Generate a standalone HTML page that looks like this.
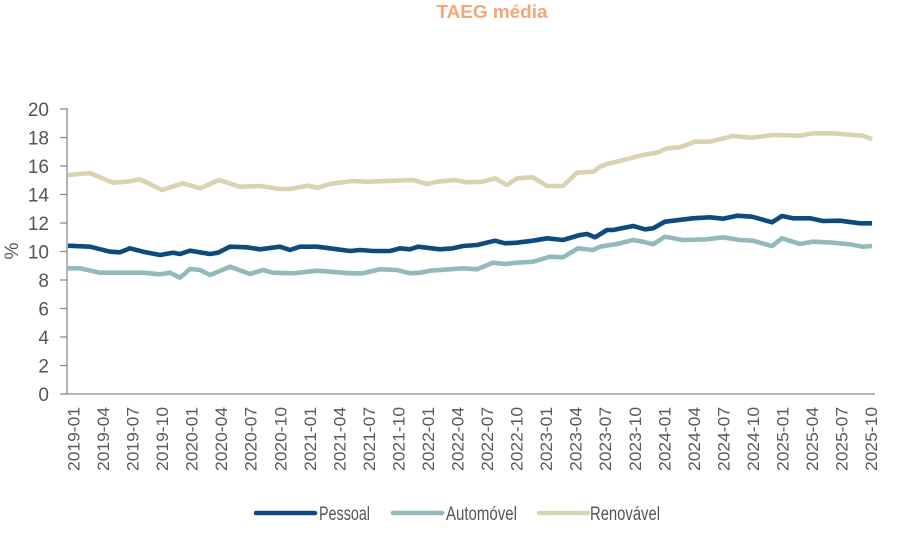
<!DOCTYPE html>
<html><head><meta charset="utf-8"><style>
html,body{margin:0;padding:0;background:#fff;}
svg{display:block;}
text{font-family:"Liberation Sans",sans-serif;}
</style></head><body>
<svg width="900" height="559" viewBox="0 0 900 559" xmlns="http://www.w3.org/2000/svg">
<text x="492" y="18" text-anchor="middle" font-size="18" font-weight="bold" fill="#f4a67a" textLength="111" lengthAdjust="spacingAndGlyphs">TAEG média</text>
<g stroke="#8c8c8c" stroke-width="1.3" fill="none">
<line x1="67" y1="108" x2="67" y2="394.5"/>
<line x1="66.5" y1="394" x2="875" y2="394"/>
<line x1="60" y1="394" x2="67" y2="394"/><line x1="60" y1="365.5" x2="67" y2="365.5"/><line x1="60" y1="337" x2="67" y2="337"/><line x1="60" y1="308.5" x2="67" y2="308.5"/><line x1="60" y1="280" x2="67" y2="280"/><line x1="60" y1="251.5" x2="67" y2="251.5"/><line x1="60" y1="223" x2="67" y2="223"/><line x1="60" y1="194.5" x2="67" y2="194.5"/><line x1="60" y1="166" x2="67" y2="166"/><line x1="60" y1="137.5" x2="67" y2="137.5"/><line x1="60" y1="109" x2="67" y2="109"/>
</g>
<g font-size="19" fill="#555" text-anchor="end">
<text x="49" y="401">0</text><text x="49" y="372.5">2</text><text x="49" y="344">4</text><text x="49" y="315.5">6</text><text x="49" y="287">8</text><text x="49" y="258.5">10</text><text x="49" y="230">12</text><text x="49" y="201.5">14</text><text x="49" y="173">16</text><text x="49" y="144.5">18</text><text x="49" y="116">20</text>
</g>
<text transform="translate(18,251) rotate(-90)" text-anchor="middle" font-size="19" fill="#555">%</text>
<g font-size="17" fill="#595959" text-anchor="end">
<text transform="translate(79.5,407) rotate(-90)" textLength="64" lengthAdjust="spacingAndGlyphs">2019-01</text>
<text transform="translate(109.0,407) rotate(-90)" textLength="64" lengthAdjust="spacingAndGlyphs">2019-04</text>
<text transform="translate(138.6,407) rotate(-90)" textLength="64" lengthAdjust="spacingAndGlyphs">2019-07</text>
<text transform="translate(168.1,407) rotate(-90)" textLength="64" lengthAdjust="spacingAndGlyphs">2019-10</text>
<text transform="translate(197.7,407) rotate(-90)" textLength="64" lengthAdjust="spacingAndGlyphs">2020-01</text>
<text transform="translate(227.2,407) rotate(-90)" textLength="64" lengthAdjust="spacingAndGlyphs">2020-04</text>
<text transform="translate(256.7,407) rotate(-90)" textLength="64" lengthAdjust="spacingAndGlyphs">2020-07</text>
<text transform="translate(286.3,407) rotate(-90)" textLength="64" lengthAdjust="spacingAndGlyphs">2020-10</text>
<text transform="translate(315.8,407) rotate(-90)" textLength="64" lengthAdjust="spacingAndGlyphs">2021-01</text>
<text transform="translate(345.4,407) rotate(-90)" textLength="64" lengthAdjust="spacingAndGlyphs">2021-04</text>
<text transform="translate(374.9,407) rotate(-90)" textLength="64" lengthAdjust="spacingAndGlyphs">2021-07</text>
<text transform="translate(404.4,407) rotate(-90)" textLength="64" lengthAdjust="spacingAndGlyphs">2021-10</text>
<text transform="translate(434.0,407) rotate(-90)" textLength="64" lengthAdjust="spacingAndGlyphs">2022-01</text>
<text transform="translate(463.5,407) rotate(-90)" textLength="64" lengthAdjust="spacingAndGlyphs">2022-04</text>
<text transform="translate(493.1,407) rotate(-90)" textLength="64" lengthAdjust="spacingAndGlyphs">2022-07</text>
<text transform="translate(522.6,407) rotate(-90)" textLength="64" lengthAdjust="spacingAndGlyphs">2022-10</text>
<text transform="translate(552.1,407) rotate(-90)" textLength="64" lengthAdjust="spacingAndGlyphs">2023-01</text>
<text transform="translate(581.7,407) rotate(-90)" textLength="64" lengthAdjust="spacingAndGlyphs">2023-04</text>
<text transform="translate(611.2,407) rotate(-90)" textLength="64" lengthAdjust="spacingAndGlyphs">2023-07</text>
<text transform="translate(640.8,407) rotate(-90)" textLength="64" lengthAdjust="spacingAndGlyphs">2023-10</text>
<text transform="translate(670.3,407) rotate(-90)" textLength="64" lengthAdjust="spacingAndGlyphs">2024-01</text>
<text transform="translate(699.8,407) rotate(-90)" textLength="64" lengthAdjust="spacingAndGlyphs">2024-04</text>
<text transform="translate(729.4,407) rotate(-90)" textLength="64" lengthAdjust="spacingAndGlyphs">2024-07</text>
<text transform="translate(758.9,407) rotate(-90)" textLength="64" lengthAdjust="spacingAndGlyphs">2024-10</text>
<text transform="translate(788.5,407) rotate(-90)" textLength="64" lengthAdjust="spacingAndGlyphs">2025-01</text>
<text transform="translate(818.0,407) rotate(-90)" textLength="64" lengthAdjust="spacingAndGlyphs">2025-04</text>
<text transform="translate(847.5,407) rotate(-90)" textLength="64" lengthAdjust="spacingAndGlyphs">2025-07</text>
<text transform="translate(877.1,407) rotate(-90)" textLength="64" lengthAdjust="spacingAndGlyphs">2025-10</text>
</g>
<g fill="none" stroke-width="4.6" stroke-linejoin="round" stroke-linecap="butt">
<polyline stroke="#d8d3b1" points="68,175 90,173 113,182.7 127,181.7 140,179.3 162,190 183,183.3 200,188.3 219,180 240,186.7 260,186 280,189 290,189 307,185.7 318,187.7 330,184 353,181 367,181.7 413,180 427,184 437,181.7 455,180 467,182.3 483,181.7 495,178.3 507,185 517,178.3 533,177.3 547,186 563,186 577,172.7 593,171.7 600,166.7 607,164 617,161.7 643,155 658,152.3 667,148.3 680,147.3 695,141.7 710,141.7 733,136 752,137.7 773,135 800,135.7 813,133.3 833,133.3 853,135 863,135.7 872,139.3"/>
<polyline stroke="#93b9bd" points="68,268.3 80,268.3 100,272.7 143,272.7 160,274.3 170,272.7 180,277.7 190,269 200,270 210,275 230,266.7 250,274 263,270 273,272.7 293,273.3 317,270.7 330,271.7 350,273.3 363,273.3 380,269.3 397,270 410,273.3 420,272.7 430,270.7 463,268.3 477,269.3 493,262.7 505,264 517,262.7 533,261.7 550,256.7 563,257.3 578,248.3 593,250 600,246.7 617,244 633,240 643,241.7 653,244.3 665,236.7 683,240 707,239.3 723,237.3 740,240 753,240.7 772,246 782,238.3 800,244 813,241.7 833,242.7 850,244.3 863,246.7 872,246"/>
<polyline stroke="#0d4a80" points="68,245.7 90,246.7 110,251.7 120,252.3 130,248.3 143,251.7 160,255 173,252.7 180,254 190,250.7 210,254 218,252.7 230,246.7 247,247.3 260,249.3 280,246.7 290,250 300,246.7 317,246.7 330,248.3 350,251 360,250 373,251 390,251 400,248.3 410,249.3 418,246.7 440,249.3 453,248.3 463,246 477,245 495,240.7 505,243.3 517,242.7 533,240.7 547,238.3 563,240 580,235 587,234 595,237.3 607,230 613,230 633,226 645,229.3 653,228.3 665,221.7 693,218.3 710,217.3 723,218.7 737,215.7 752,216.7 772,222.3 782,216 793,218.3 810,218.3 823,221 840,220.7 860,223.3 872,223.3"/>
</g>
<g stroke-width="4.5" stroke-linecap="round">
<line x1="256" y1="513" x2="315" y2="513" stroke="#0d4a80"/>
<line x1="393" y1="513" x2="442" y2="513" stroke="#93b9bd"/>
<line x1="539" y1="513" x2="588" y2="513" stroke="#d8d3b1"/>
</g>
<g font-size="19" fill="#555">
<text x="319" y="520" textLength="51" lengthAdjust="spacingAndGlyphs">Pessoal</text>
<text x="446" y="520" textLength="71" lengthAdjust="spacingAndGlyphs">Automóvel</text>
<text x="590" y="520" textLength="70" lengthAdjust="spacingAndGlyphs">Renovável</text>
</g>
</svg>
</body></html>
